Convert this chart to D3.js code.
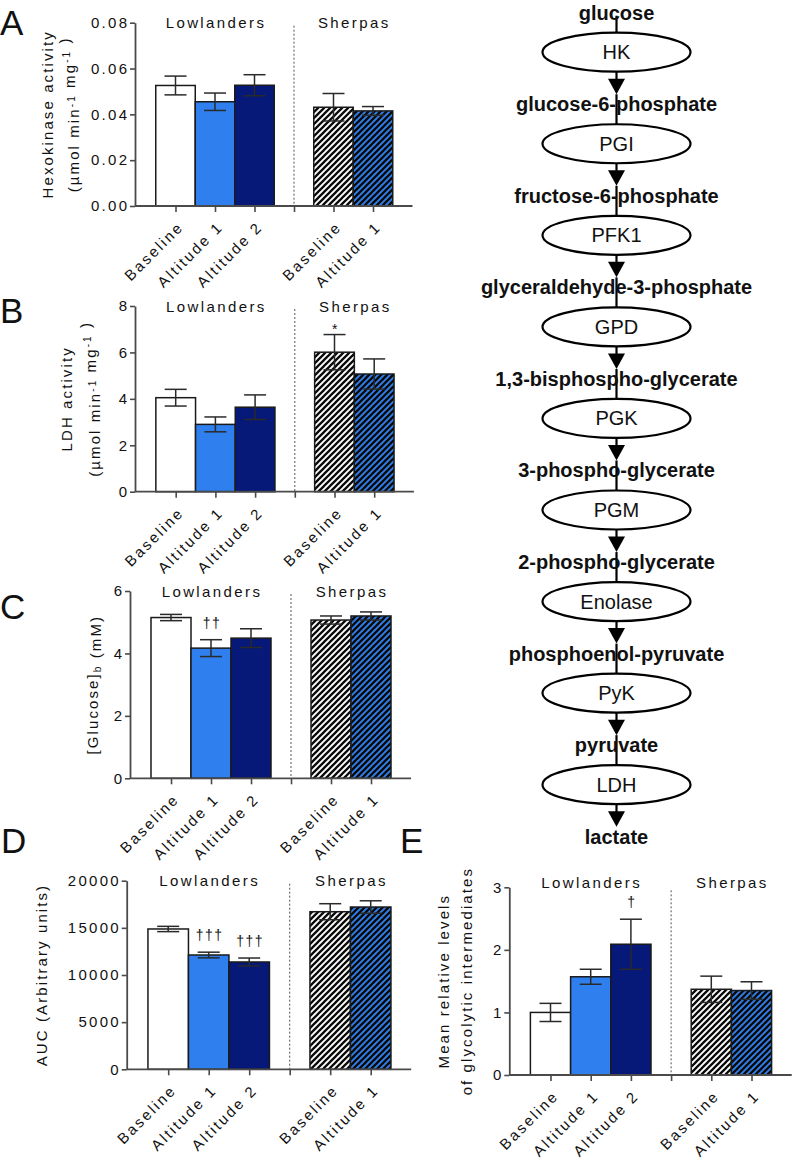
<!DOCTYPE html>
<html>
<head>
<meta charset="utf-8">
<script src="https://cdn.jsdelivr.net/npm/d3@7/dist/d3.min.js"></script>
<style>
  html, body { margin: 0; padding: 0; background: #fff; }
  svg { display: block; }
  text { font-family: "Liberation Sans", Arial, sans-serif; fill: #111; }
</style>
</head>
<body>
<script>
// ---------------- DATA ----------------
const categories = ["Baseline", "Altitude 1", "Altitude 2", "Baseline", "Altitude 1"];
const groupNames = ["Lowlanders", "Sherpas"];
const groupOf = [0, 0, 0, 1, 1];

const hkMean = [0.0526, 0.0455, 0.0527, 0.0431, 0.0415];
const hkErr  = [0.0041, 0.0038, 0.0046, 0.0060, 0.0019];
const hkMarks = ["", "", "", "", ""];
const hkTicks = [0, 0.02, 0.04, 0.06, 0.08];

const ldhMean = [4.05, 2.90, 3.64, 6.01, 5.07];
const ldhErr  = [0.36, 0.32, 0.53, 0.76, 0.65];
const ldhMarks = ["", "", "", "*", ""];
const ldhTicks = [0, 2, 4, 6, 8];

const gluMean = [5.15, 4.17, 4.49, 5.07, 5.20];
const gluErr  = [0.10, 0.27, 0.30, 0.13, 0.13];
const gluMarks = ["", "††", "", "", ""];
const gluTicks = [0, 2, 4, 6];

const aucMean = [14880, 12120, 11380, 16710, 17210];
const aucErr  = [280, 300, 420, 850, 660];
const aucMarks = ["", "†††", "†††", "", ""];
const aucTicks = [0, 5000, 10000, 15000, 20000];

const intMean = [1.00, 1.57, 2.09, 1.37, 1.35];
const intErr  = [0.145, 0.12, 0.40, 0.21, 0.14];
const intMarks = ["", "", "†", "", ""];
const intTicks = [0, 1, 2, 3];

const metabolites = ["glucose", "glucose-6-phosphate", "fructose-6-phosphate",
  "glyceraldehyde-3-phosphate", "1,3-bisphospho-glycerate", "3-phospho-glycerate",
  "2-phospho-glycerate", "phosphoenol-pyruvate", "pyruvate", "lactate"];
const enzymes = ["HK", "PGI", "PFK1", "GPD", "PGK", "PGM", "Enolase", "PyK", "LDH"];

// ---------------- STYLE ----------------
const barFills = ["#ffffff", "#2f80ee", "#061878", "url(#hatchW)", "url(#hatchB)"];
const slots = [1, 2, 3, 5, 6];   // category slot on x axis, slot 4 = group divider
const FONT = 15, LS = 2.3;

const svg = d3.select("body").append("svg")
  .attr("width", 793).attr("height", 1160);

const defs = svg.append("defs");
function hatch(id, bg) {
  const s = 6;
  const p = defs.append("pattern").attr("id", id)
    .attr("patternUnits", "userSpaceOnUse")
    .attr("width", s).attr("height", s);
  p.append("rect").attr("width", s).attr("height", s).attr("fill", bg);
  p.append("path")
    .attr("d", `M0,${s}L${s},0M${-s / 2},${s / 2}L${s / 2},${-s / 2}M${s / 2},${1.5 * s}L${1.5 * s},${s / 2}`)
    .attr("stroke", "#0a0a0a").attr("stroke-width", 2.3);
}
hatch("hatchW", "#ffffff");
hatch("hatchB", "#2f80ee");

function addParts(textSel, parts) {
  parts.forEach(p => {
    if (p.sup) {
      textSel.append("tspan").attr("dy", "-0.45em").attr("font-size", "10px").text(p.t);
      textSel.append("tspan").attr("dy", "0.45em").text("");
    } else if (p.sub) {
      textSel.append("tspan").attr("dy", "0.3em").attr("font-size", "10px").text(p.t);
      textSel.append("tspan").attr("dy", "-0.3em").text("");
    } else {
      textSel.append("tspan").text(p.t);
    }
  });
}

function panel(cfg) {
  const g = svg.append("g");
  const x = d3.scaleLinear().domain([0, 7]).range([cfg.x0 + 1, cfg.x0 + 1 + 7 * cfg.w]);
  const y = d3.scaleLinear().domain([0, cfg.ticks[cfg.ticks.length - 1]]).range([cfg.yBot, cfg.yTop]);

  // bars
  g.selectAll("rect.bar").data(cfg.mean).join("rect")
    .attr("class", "bar")
    .attr("x", (d, i) => x(slots[i] - 0.5))
    .attr("width", x(1) - x(0))
    .attr("y", d => y(d))
    .attr("height", d => y(0) - y(d))
    .attr("fill", (d, i) => barFills[i])
    .attr("stroke", "#1a1a1a").attr("stroke-width", 1.5);

  // error bars
  const cap = 11;
  cfg.mean.forEach((m, i) => {
    const cx = x(slots[i]);
    const e = cfg.err[i];
    const eg = g.append("g").attr("stroke", "#2a2a2a").attr("stroke-width", 1.5);
    eg.append("line").attr("x1", cx).attr("x2", cx).attr("y1", y(m + e)).attr("y2", y(m - e));
    eg.append("line").attr("x1", cx - cap).attr("x2", cx + cap).attr("y1", y(m + e)).attr("y2", y(m + e));
    eg.append("line").attr("x1", cx - cap).attr("x2", cx + cap).attr("y1", y(m - e)).attr("y2", y(m - e));
    const mk = cfg.marks[i];
    if (mk) {
      g.append("text").attr("x", cx + 1).attr("y", y(m + e) - (mk === "*" ? 1 : 12))
        .attr("text-anchor", "middle").attr("font-size", "14px")
        .attr("letter-spacing", "1.5px").attr("fill", "#222").text(mk);
    }
  });

  // divider
  g.append("line").attr("x1", x(4)).attr("x2", x(4))
    .attr("y1", cfg.yTop + 3).attr("y2", cfg.yBot)
    .attr("stroke", "#555").attr("stroke-width", 1).attr("stroke-dasharray", "2,2");

  // y axis
  const ya = g.append("g").attr("transform", `translate(${cfg.x0},0)`)
    .call(d3.axisLeft(y).tickValues(cfg.ticks).tickFormat(cfg.fmt).tickSize(5).tickSizeOuter(0).tickPadding(3));
  ya.select(".domain").attr("stroke", "#4a4a4a").attr("stroke-width", 1.8);
  ya.selectAll(".tick line").attr("stroke", "#4a4a4a").attr("stroke-width", 1.6);
  ya.selectAll(".tick text").attr("font-size", FONT + "px").attr("letter-spacing", LS + "px")
    .attr("font-family", "Liberation Sans, Arial, sans-serif").attr("fill", "#111")
    .attr("dx", LS + "px");

  // x axis
  const xa = g.append("g").attr("transform", `translate(0,${cfg.yBot})`)
    .call(d3.axisBottom(x).tickValues([1, 2, 3, 4, 5, 6]).tickFormat("").tickSize(6).tickSizeOuter(0));
  xa.select(".domain").attr("d", `M${cfg.x0},0H${x(7)}`).attr("stroke", "#4a4a4a").attr("stroke-width", 1.8);
  xa.selectAll(".tick line").attr("stroke", "#4a4a4a").attr("stroke-width", 1.6);

  // category labels
  categories.forEach((c, i) => {
    g.append("text")
      .attr("transform", `translate(${x(slots[i]) + 9},${cfg.yBot + 22}) rotate(-45)`)
      .attr("text-anchor", "end").attr("font-size", FONT + "px").attr("letter-spacing", LS + "px")
      .text(c);
  });

  // group labels
  g.append("text").attr("x", x(2) + 1).attr("y", cfg.yTop + cfg.gly)
    .attr("text-anchor", "middle").attr("font-size", FONT + "px").attr("letter-spacing", "2.4px")
    .text(groupNames[0]);
  g.append("text").attr("x", x(5.5) + 1).attr("y", cfg.yTop + cfg.gly)
    .attr("text-anchor", "middle").attr("font-size", FONT + "px").attr("letter-spacing", "2.4px")
    .text(groupNames[1]);

  // y titles
  const cy = (cfg.yTop + cfg.yBot) / 2;
  cfg.titles.forEach(tt => {
    const t = g.append("text")
      .attr("transform", `translate(${tt.x},${cy}) rotate(-90)`)
      .attr("text-anchor", "middle").attr("font-size", FONT + "px").attr("letter-spacing", tt.ls + "px");
    addParts(t, tt.parts);
  });

  // panel letter
  svg.append("text").attr("x", cfg.lx).attr("y", cfg.ly)
    .attr("font-size", "35px").attr("fill", "#000").text(cfg.letter);
}

const fmt2 = d3.format(".2f");
const fmt0 = d3.format("d");

panel({ mean: hkMean, err: hkErr, marks: hkMarks, ticks: hkTicks, fmt: fmt2,
  x0: 135, w: 39.5, yTop: 22.7, yBot: 206, gly: 5.5,
  titles: [{ x: 53, ls: 2.1, parts: [{ t: "Hexokinase activity" }] },
           { x: 79, ls: 2.1, parts: [{ t: "(µmol min" }, { t: "-1", sup: true }, { t: " mg" }, { t: "-1", sup: true }, { t: " )" }] }],
  letter: "A", lx: 0, ly: 35 });

panel({ mean: ldhMean, err: ldhErr, marks: ldhMarks, ticks: ldhTicks, fmt: fmt0,
  x0: 135, w: 39.7, yTop: 306, yBot: 491.7, gly: 5.5,
  titles: [{ x: 71.5, ls: 2.1, parts: [{ t: "LDH activity" }] },
           { x: 100, ls: 2.1, parts: [{ t: "(µmol min" }, { t: "-1", sup: true }, { t: " mg" }, { t: "-1", sup: true }, { t: " )" }] }],
  letter: "B", lx: 0, ly: 323 });

panel({ mean: gluMean, err: gluErr, marks: gluMarks, ticks: gluTicks, fmt: fmt0,
  x0: 130, w: 40, yTop: 591, yBot: 778.3, gly: 5.5,
  titles: [{ x: 98, ls: 2.1, parts: [{ t: "[Glucose]" }, { t: "b", sub: true }, { t: " (mM)" }] }],
  letter: "C", lx: 0, ly: 619 });

panel({ mean: aucMean, err: aucErr, marks: aucMarks, ticks: aucTicks, fmt: fmt0,
  x0: 126.7, w: 40.5, yTop: 880.7, yBot: 1069.3, gly: 5.5,
  titles: [{ x: 47, ls: 2.1, parts: [{ t: "AUC (Arbitrary units)" }] }],
  letter: "D", lx: 1, ly: 853 });

panel({ mean: intMean, err: intErr, marks: intMarks, ticks: intTicks, fmt: fmt0,
  x0: 509.3, w: 40.2, yTop: 887.3, yBot: 1075, gly: 1,
  titles: [{ x: 449, ls: 2.1, parts: [{ t: "Mean relative levels" }] },
           { x: 471.5, ls: 2.1, parts: [{ t: "of glycolytic intermediates" }] }],
  letter: "E", lx: 400, ly: 853 });

// ---------------- PATHWAY ----------------
const pw = svg.append("g");
const pcx = 616.5;
const my = d3.scaleLinear().domain([0, metabolites.length - 1]).range([12.7, 836.7]);
const erx = 74, ery = 19.5;
const ey = i => my(i) + 39.5;

enzymes.forEach((e, i) => {
  const top = i === 0 ? my(0) + 3 : my(i) - 10;
  pw.append("line").attr("x1", pcx).attr("x2", pcx).attr("y1", top).attr("y2", ey(i) - ery)
    .attr("stroke", "#000").attr("stroke-width", 2.2);
  const tip = my(i + 1) - 10;
  pw.append("line").attr("x1", pcx).attr("x2", pcx).attr("y1", ey(i) + ery).attr("y2", tip - 14)
    .attr("stroke", "#000").attr("stroke-width", 2.2);
  pw.append("path")
    .attr("d", `M${pcx - 8.5},${tip - 15.5}L${pcx + 8.5},${tip - 15.5}L${pcx},${tip}Z`)
    .attr("fill", "#000");
  pw.append("ellipse").attr("cx", pcx).attr("cy", ey(i)).attr("rx", erx).attr("ry", ery)
    .attr("fill", "#fff").attr("stroke", "#000").attr("stroke-width", 2.2);
  pw.append("text").attr("x", pcx).attr("y", ey(i) + 7)
    .attr("text-anchor", "middle").attr("font-size", "20px").attr("fill", "#111").text(e);
});

metabolites.forEach((m, i) => {
  pw.append("text").attr("x", pcx).attr("y", my(i) + 7)
    .attr("text-anchor", "middle").attr("font-size", "20px").attr("font-weight", "bold")
    .attr("fill", "#000").text(m);
});
</script>
</body>
</html>
